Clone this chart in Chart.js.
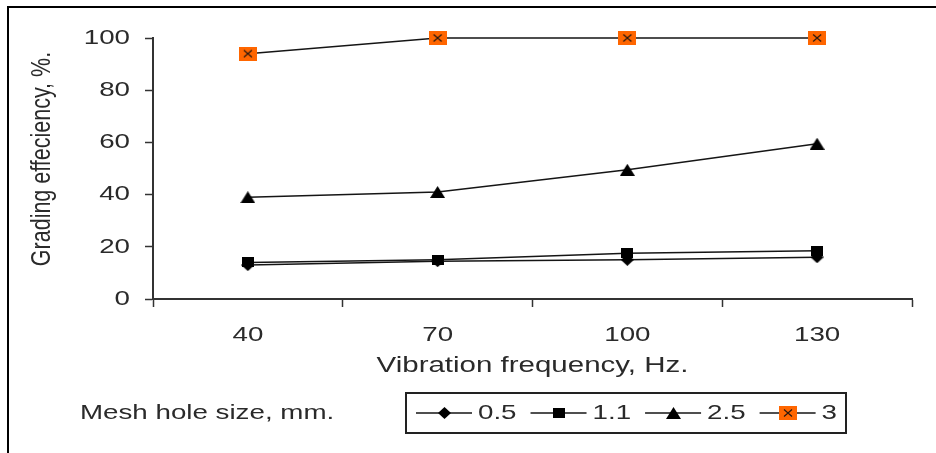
<!DOCTYPE html>
<html>
<head>
<meta charset="utf-8">
<script src="https://cdn.jsdelivr.net/npm/chart.js@4/dist/chart.umd.min.js"></script>
<style>
  body { margin: 0; background: #fff; }
  canvas { display: block; }
</style>
</head>
<body>
<canvas id="grafico" width="936" height="453"></canvas>
<script>
// data
const frequencies = ["40", "70", "100", "130"];
const yTicks = [0, 20, 40, 60, 80, 100];
const meshSizes = ["0.5", "1.1", "2.5", "3"];
const mesh05 = [13, 14.5, 15, 16];
const mesh11 = [14, 15, 17.5, 18.5];
const mesh25 = [39, 41, 49.5, 59.5];
const mesh3 = [94, 100, 100, 100];

const ink = "#2a2a2a";
const family = "'Liberation Sans', Arial, sans-serif";
const sx = 1.32; // the original picture is stretched sideways

// marker pictures (the original markers are a bit wider than tall)
function marker(kind, w, h) {
    let c = document.createElement("canvas");
    c.width = w;
    c.height = h;
    let g = c.getContext("2d");
    g.fillStyle = "#000";
    g.beginPath();
    if (kind == "diamond") {
        g.moveTo(w / 2, 0); g.lineTo(w, h / 2); g.lineTo(w / 2, h); g.lineTo(0, h / 2);
        g.fill();
    } else if (kind == "square") {
        g.fillRect(0, 0, w, h);
    } else if (kind == "triangle") {
        g.moveTo(w / 2, 0); g.lineTo(w, h); g.lineTo(0, h);
        g.fill();
    } else {
        g.fillStyle = "#ff6600";
        g.fillRect(0, 0, w, h);
        g.strokeStyle = "#2a1a10";
        g.lineWidth = 1.2;
        g.moveTo(5, 3.5); g.lineTo(w - 5, h - 3.5);
        g.moveTo(w - 5, 3.5); g.lineTo(5, h - 3.5);
        g.stroke();
    }
    return c;
}

const markers = [
    marker("diamond", 13, 12),
    marker("square", 12, 10),
    marker("triangle", 15, 12),
    marker("cross", 18, 14)
];

function texto(ctx, txt, x, y, align, size = 21, stretch = sx) {
    ctx.save();
    ctx.translate(x, y);
    ctx.scale(stretch, 1);
    ctx.font = size + "px " + family;
    ctx.fillStyle = ink;
    ctx.textAlign = align;
    ctx.textBaseline = "middle";
    ctx.fillText(txt, 0, 0);
    ctx.restore();
}

const extras = {
    id: "extras",
    afterDraw(chart) {
        let ctx = chart.ctx;
        let xs = chart.scales.x;
        let ys = chart.scales.y;

        // frame (only left and top edges are in the picture)
        ctx.save();
        ctx.strokeStyle = "#000";
        ctx.lineWidth = 2;
        ctx.beginPath();
        ctx.moveTo(8, 460); ctx.lineTo(8, 7); ctx.lineTo(940, 7);
        ctx.stroke();
        ctx.restore();

        ys.ticks.forEach(t => {
            texto(ctx, String(t.value), 130, ys.getPixelForValue(t.value), "right");
        });
        frequencies.forEach((f, i) => {
            texto(ctx, f, xs.getPixelForTick(i), 335, "center");
        });
        texto(ctx, "Vibration frequency, Hz.", (chart.chartArea.left + chart.chartArea.right) / 2, 366, "center", 22, 1.34);

        // y title, rotated
        ctx.save();
        ctx.translate(42, 159);
        ctx.scale(sx, 1);
        ctx.rotate(-Math.PI / 2);
        ctx.font = "21.5px " + family;
        ctx.fillStyle = ink;
        ctx.textAlign = "center";
        ctx.textBaseline = "middle";
        ctx.fillText("Grading effeciency, %.", 0, 0);
        ctx.restore();

        texto(ctx, "Mesh hole size, mm.", 80, 413, "left");

        // legend
        ctx.save();
        ctx.strokeStyle = "#222";
        ctx.lineWidth = 2;
        ctx.strokeRect(406, 393, 440, 40);
        ctx.restore();
        let x = 416;
        chart.data.datasets.forEach(ds => {
            ctx.save();
            ctx.strokeStyle = ds.borderColor;
            ctx.lineWidth = 1.5;
            ctx.beginPath();
            ctx.moveTo(x, 413); ctx.lineTo(x + 56, 413);
            ctx.stroke();
            let m = ds.pointStyle;
            ctx.drawImage(m, Math.round(x + 28 - m.width / 2), Math.round(413 - m.height / 2));
            ctx.restore();
            texto(ctx, ds.label, x + 62, 413, "left");
            ctx.save();
            ctx.font = "21px " + family;
            let w = ctx.measureText(ds.label).width * sx;
            ctx.restore();
            x = x + 62 + w + 14;
        });
    }
};

const series = [mesh05, mesh11, mesh25, mesh3];

new Chart(document.getElementById("grafico"), {
    type: "line",
    data: {
        labels: frequencies,
        datasets: series.map((vals, i) => ({
            label: meshSizes[i],
            data: vals,
            borderColor: "#151515",
            borderWidth: 1.5,
            tension: 0,
            clip: false,
            pointStyle: markers[i],
            pointRadius: 6,
            pointHoverRadius: 6
        }))
    },
    options: {
        responsive: false,
        animation: false,
        events: [],
        layout: { padding: { top: 38, right: 24, left: 0, bottom: 0 } },
        plugins: { legend: { display: false }, tooltip: { enabled: false } },
        scales: {
            x: {
                offset: true,
                grid: { offset: true, drawOnChartArea: false, tickLength: 8, color: "#333", tickWidth: 1.5 },
                border: { color: "#333", width: 2 },
                ticks: { display: false },
                afterFit: s => { s.height = 154; }
            },
            y: {
                min: 0,
                max: 100,
                afterBuildTicks: s => { s.ticks = yTicks.map(v => ({ value: v })); },
                grid: { drawOnChartArea: false, tickLength: 8, color: "#333", tickWidth: 1.5 },
                border: { color: "#333", width: 2 },
                ticks: { display: false },
                afterFit: s => { s.width = 153; }
            }
        }
    },
    plugins: [extras]
});
</script>
</body>
</html>
